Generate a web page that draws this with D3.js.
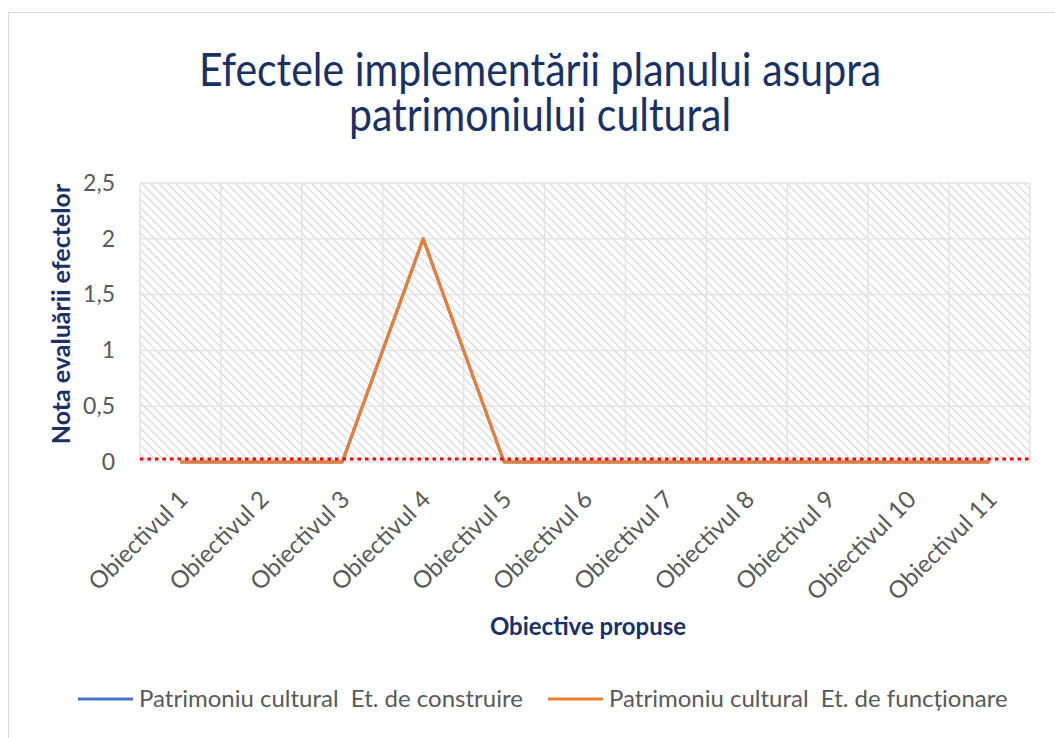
<!DOCTYPE html>
<html>
<head>
<meta charset="utf-8">
<script src="https://cdn.jsdelivr.net/npm/d3@7.9.0/dist/d3.min.js"></script>
<style>
  html, body { margin: 0; padding: 0; background: #fff; }
  svg { display: block; font-family: Lato, "Open Sans", sans-serif; }
</style>
</head>
<body>
<svg id="chart" width="1055" height="738"></svg>
<script>
// chart data
const categories = ['Obiectivul 1', 'Obiectivul 2', 'Obiectivul 3', 'Obiectivul 4', 'Obiectivul 5',
  'Obiectivul 6', 'Obiectivul 7', 'Obiectivul 8', 'Obiectivul 9', 'Obiectivul 10', 'Obiectivul 11'];
const etConstruire = [0, 0, 0, 2, 0, 0, 0, 0, 0, 0, 0];
const etFunctionare = [0, 0, 0, 2, 0, 0, 0, 0, 0, 0, 0];
const yTicks = [0, 0.5, 1, 1.5, 2, 2.5];
const seriesNames = ['Patrimoniu cultural  Et. de construire', 'Patrimoniu cultural  Et. de funcționare'];
const titleLines = ['Efectele implementării planului asupra', 'patrimoniului cultural'];

const svg = d3.select('#chart');
const navy = '#1a3166';
const gray = '#595959';

// outer chart border
svg.append('rect')
  .attr('x', 8.5).attr('y', 12.5)
  .attr('width', 1060).attr('height', 740)
  .attr('fill', '#fff').attr('stroke', '#d9d9d9');

// plot area
const m = { left: 140, right: 1030, top: 183, bottom: 462 };
const x = d3.scaleBand().domain(categories).range([m.left, m.right]);
const y = d3.scaleLinear().domain([0, 2.5]).range([m.bottom, m.top]);

// hatch pattern
const defs = svg.append('defs');
defs.append('pattern')
  .attr('id', 'hatch')
  .attr('patternUnits', 'userSpaceOnUse')
  .attr('width', 6).attr('height', 6)
  .attr('patternTransform', 'rotate(-45)')
  .append('line')
  .attr('x1', 0).attr('y1', 0).attr('x2', 0).attr('y2', 6)
  .attr('stroke', '#d6d6d6').attr('stroke-width', 2.4);

svg.append('rect')
  .attr('x', m.left).attr('y', m.top)
  .attr('width', m.right - m.left).attr('height', m.bottom - m.top)
  .attr('fill', 'url(#hatch)');

// gridlines
const grid = svg.append('g').attr('stroke', '#e3e3e3').attr('stroke-width', 1.5);
yTicks.forEach(t => {
  grid.append('line')
    .attr('x1', m.left).attr('x2', m.right)
    .attr('y1', y(t)).attr('y2', y(t));
});
categories.forEach(c => {
  grid.append('line')
    .attr('x1', x(c)).attr('x2', x(c))
    .attr('y1', m.top).attr('y2', m.bottom);
});
grid.append('line')
  .attr('x1', m.right).attr('x2', m.right)
  .attr('y1', m.top).attr('y2', m.bottom);

// y axis labels
const yAxis = d3.axisLeft(y).tickValues(yTicks).tickSize(0).tickPadding(0)
  .tickFormat(d => String(d).replace('.', ','));
const gy = svg.append('g').attr('transform', `translate(${m.left - 25},0)`).call(yAxis);
gy.select('.domain').remove();
gy.selectAll('text')
  .attr('fill', gray).attr('font-size', 23)
  .attr('font-family', 'Lato, "Open Sans", sans-serif');

// x axis labels, rotated
const xAxis = d3.axisBottom(x).tickSize(0).tickPadding(0);
const gx = svg.append('g').attr('transform', `translate(0,${m.bottom})`).call(xAxis);
gx.select('.domain').remove();
gx.selectAll('text')
  .attr('fill', gray).attr('font-size', 24)
  .attr('font-family', 'Lato, "Open Sans", sans-serif')
  .attr('text-anchor', 'end')
  .attr('dy', '0.35em')
  .attr('transform', 'translate(3,33) rotate(-45)');

// series lines
const line = d3.line()
  .x((d, i) => x(categories[i]) + x.bandwidth() / 2)
  .y(d => y(d));

svg.append('path').datum(etConstruire)
  .attr('d', line).attr('fill', 'none')
  .attr('stroke', '#4472c4').attr('stroke-width', 3)
  .attr('stroke-linejoin', 'round');

svg.append('path').datum(etFunctionare)
  .attr('d', line).attr('fill', 'none')
  .attr('stroke', '#ed7d31').attr('stroke-width', 3)
  .attr('stroke-linejoin', 'round');

// horizontal axis line (red dotted)
svg.append('line')
  .attr('x1', m.left).attr('x2', m.right)
  .attr('y1', y(0) - 3).attr('y2', y(0) - 3)
  .attr('stroke', '#ff0000').attr('stroke-width', 3)
  .attr('stroke-dasharray', '3.5,4');

// title (slightly tall lettering as in the reference)
titleLines.forEach((t, i) => {
  svg.append('text')
    .attr('transform', `translate(540,${86 + i * 45}) scale(1,1.15)`)
    .attr('text-anchor', 'middle')
    .attr('fill', navy).attr('font-size', 41)
    .text(t);
});

// axis titles
svg.append('text')
  .attr('transform', `translate(70,${314}) rotate(-90)`)
  .attr('text-anchor', 'middle')
  .attr('fill', navy).attr('font-size', 25).attr('font-weight', 'bold')
  .text('Nota evaluării efectelor');

svg.append('text')
  .attr('x', 588).attr('y', 635)
  .attr('text-anchor', 'middle')
  .attr('fill', navy).attr('font-size', 24).attr('font-weight', 'bold')
  .text('Obiective propuse');

// legend
const legendColors = ['#4472c4', '#ed7d31'];
const legendX = [78, 548];
const lg = svg.append('g');
seriesNames.forEach((name, i) => {
  lg.append('line')
    .attr('x1', legendX[i]).attr('x2', legendX[i] + 55)
    .attr('y1', 699).attr('y2', 699)
    .attr('stroke', legendColors[i]).attr('stroke-width', 3);
  lg.append('text')
    .attr('x', legendX[i] + 61).attr('y', 707)
    .attr('fill', gray).attr('font-size', 24)
    .attr('xml:space', 'preserve')
    .style('white-space', 'pre')
    .text(name);
});
</script>
</body>
</html>
